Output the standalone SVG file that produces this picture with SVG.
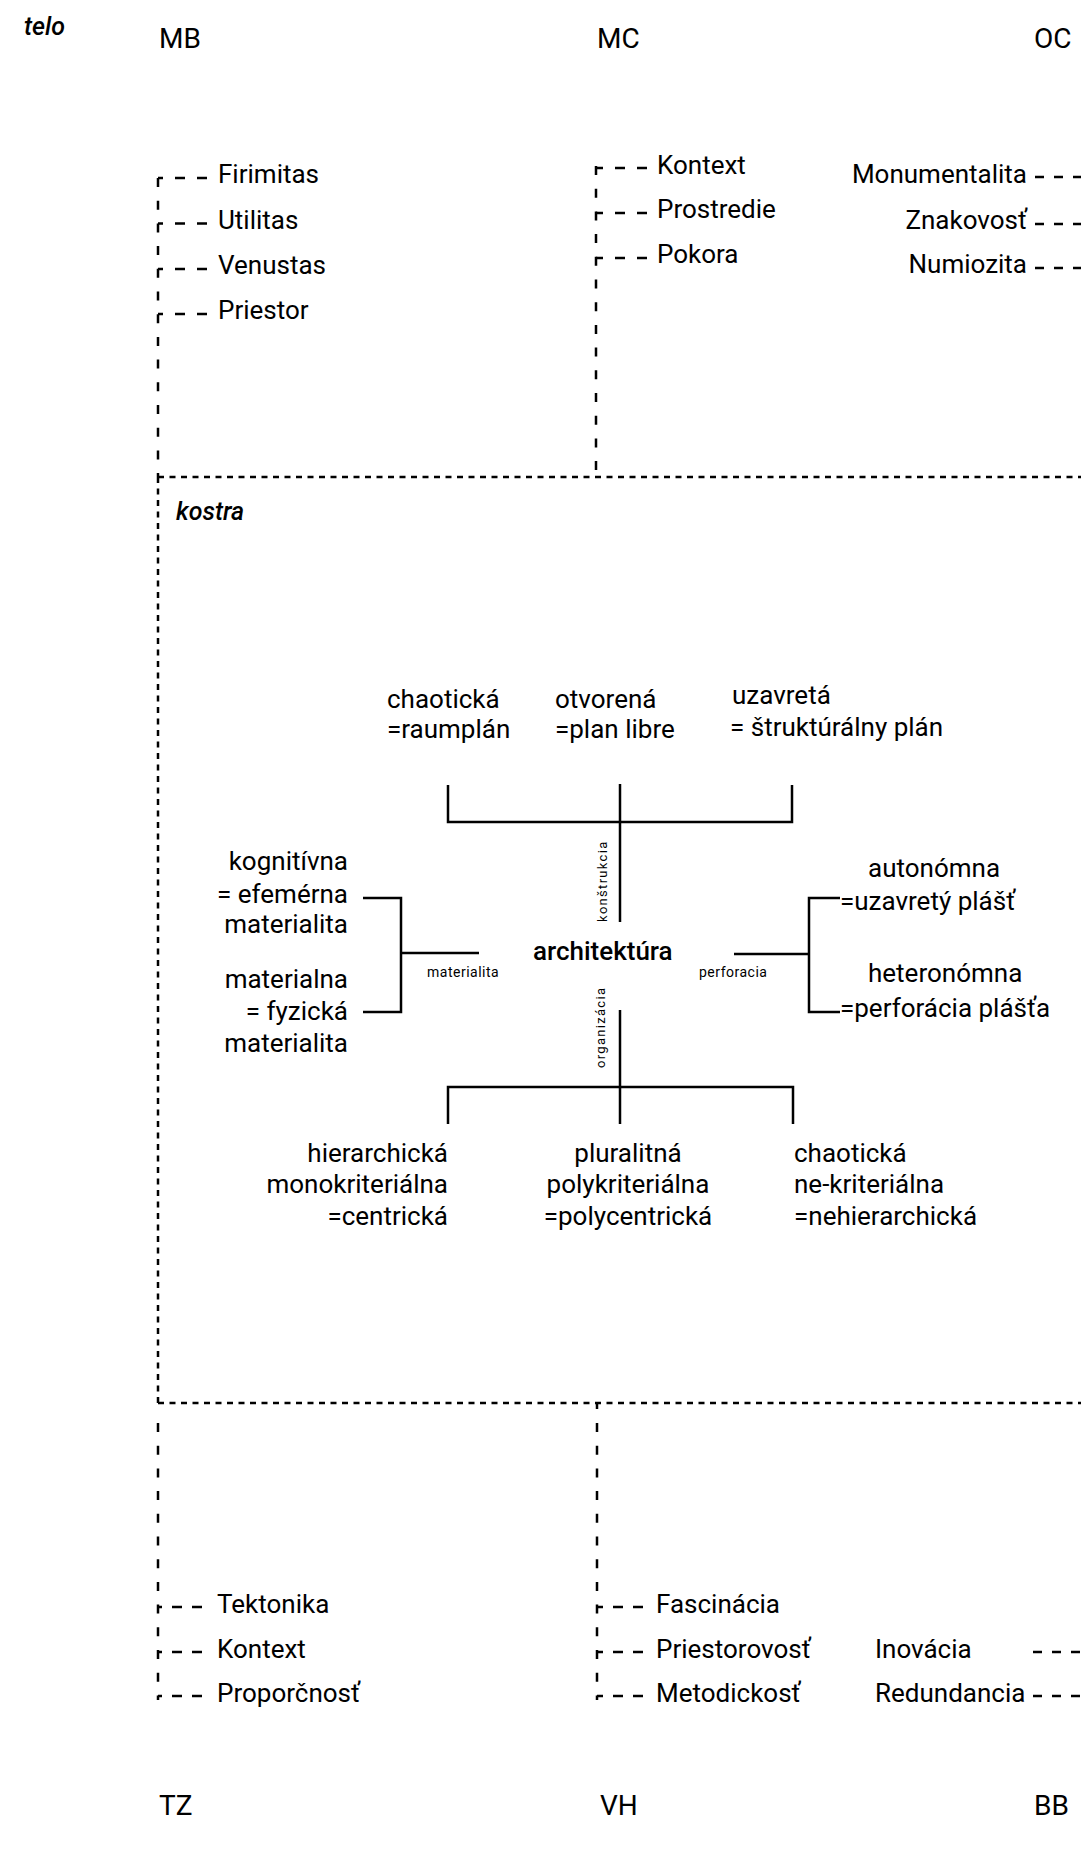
<svg xmlns="http://www.w3.org/2000/svg" width="1081" height="1850" viewBox="0 0 1081 1850">
<style>
text{font-family:Roboto,"Liberation Sans",sans-serif;fill:#000}
.h{font-size:28px}
.t{font-size:26px}
.it{font-size:25px;font-style:italic;font-weight:500}
.main{font-size:26px;font-weight:500}
.sm{font-size:14px;letter-spacing:0.5px}
.rot{font-size:13px;letter-spacing:1.3px}
.e{text-anchor:end}
.m{text-anchor:middle}
line,path{fill:none;stroke:#000;stroke-width:2.5}
.sp{stroke-dasharray:9 13.7}
.fn{stroke-dasharray:6 5.5}
.br{stroke-dasharray:10 12}
.br2{stroke-dasharray:10 10}
.rb{stroke-dasharray:9 10}
</style>
<rect width="1081" height="1850" fill="#fff"/>

<g id="connectors">
  <line class="sp" x1="158" y1="178" x2="158" y2="477"/>
  <line class="sp" x1="596" y1="166" x2="596" y2="477"/>
  <line class="fn" x1="158" y1="477" x2="1081" y2="477"/>
  <line class="fn" x1="158" y1="477" x2="158" y2="1403"/>
  <line class="fn" x1="158" y1="1403" x2="1081" y2="1403"/>
  <line class="sp" x1="158" y1="1423" x2="158" y2="1700"/>
  <line class="sp" x1="597" y1="1423" x2="597" y2="1700"/>
  <line x1="597" y1="1403" x2="597" y2="1409"/>
  <line class="br" stroke-dashoffset="5" x1="158" y1="178" x2="208" y2="178"/>
  <line class="br" stroke-dashoffset="5" x1="158" y1="223.5" x2="208" y2="223.5"/>
  <line class="br" stroke-dashoffset="5" x1="158" y1="269" x2="208" y2="269"/>
  <line class="br" stroke-dashoffset="5" x1="158" y1="314" x2="208" y2="314"/>
  <line class="br" stroke-dashoffset="3" x1="596" y1="168" x2="647" y2="168"/>
  <line class="br" stroke-dashoffset="3" x1="596" y1="213" x2="647" y2="213"/>
  <line class="br" stroke-dashoffset="3" x1="596" y1="258" x2="647" y2="258"/>
  <line class="rb" x1="1035" y1="177" x2="1081" y2="177"/>
  <line class="rb" x1="1035" y1="224" x2="1081" y2="224"/>
  <line class="rb" x1="1035" y1="268" x2="1081" y2="268"/>
  <line class="br2" stroke-dashoffset="6" x1="158" y1="1607" x2="202" y2="1607"/>
  <line class="br2" stroke-dashoffset="6" x1="158" y1="1652" x2="202" y2="1652"/>
  <line class="br2" stroke-dashoffset="6" x1="158" y1="1696" x2="202" y2="1696"/>
  <line class="br2" stroke-dashoffset="4" x1="597" y1="1607" x2="643" y2="1607"/>
  <line class="br2" stroke-dashoffset="4" x1="597" y1="1652" x2="643" y2="1652"/>
  <line class="br2" stroke-dashoffset="4" x1="597" y1="1696" x2="643" y2="1696"/>
  <line class="rb" x1="1033" y1="1652" x2="1081" y2="1652"/>
  <line class="rb" x1="1033" y1="1696" x2="1081" y2="1696"/>
  <path d="M448 785 V822 H792 V785"/>
  <path d="M620 784 V922"/>
  <path d="M363 898 H401 V1012 H363"/>
  <path d="M401 953 H479"/>
  <path d="M840 898 H809 V1012 H840"/>
  <path d="M734 954 H809"/>
  <path d="M448 1124 V1087 H793 V1124"/>
  <path d="M620 1010 V1124"/>
</g>

<g id="labels">
  <text class="it" x="24" y="35">telo</text>
  <text class="it" x="176" y="520">kostra</text>
</g>

<g id="MB">
  <text class="h" x="159" y="48">MB</text>
  <text class="t" x="218" y="183">Firimitas</text>
  <text class="t" x="218" y="229">Utilitas</text>
  <text class="t" x="218" y="274">Venustas</text>
  <text class="t" x="218" y="319">Priestor</text>
</g>
<g id="MC">
  <text class="h" x="597" y="48">MC</text>
  <text class="t" x="657" y="174">Kontext</text>
  <text class="t" x="657" y="218">Prostredie</text>
  <text class="t" x="657" y="263">Pokora</text>
</g>
<g id="OC">
  <text class="h" x="1034" y="48">OC</text>
  <text class="t e" x="1027" y="183">Monumentalita</text>
  <text class="t e" x="1027" y="229">Znakovosť</text>
  <text class="t e" x="1027" y="273">Numiozita</text>
</g>

<g id="architektura">
  <text class="main" x="533" y="960">architektúra</text>
</g>
<g id="konstrukcia">
  <text class="rot" transform="translate(607,922) rotate(-90)">konštrukcia</text>
  <text class="t" x="387" y="708">chaotická</text>
  <text class="t" x="387" y="738">=raumplán</text>
  <text class="t" x="555" y="708">otvorená</text>
  <text class="t" x="555" y="738">=plan libre</text>
  <text class="t" x="732" y="704">uzavretá</text>
  <text class="t" x="730" y="736">= štruktúrálny plán</text>
</g>
<g id="materialita">
  <text class="sm" x="427" y="977">materialita</text>
  <text class="t e" x="348" y="870">kognitívna</text>
  <text class="t e" x="348" y="903">= efemérna</text>
  <text class="t e" x="348" y="933">materialita</text>
  <text class="t e" x="348" y="988">materialna</text>
  <text class="t e" x="348" y="1020">= fyzická</text>
  <text class="t e" x="348" y="1052">materialita</text>
</g>
<g id="perforacia">
  <text class="sm" x="699" y="977">perforacia</text>
  <text class="t" x="868" y="877">autonómna</text>
  <text class="t" x="840" y="910">=uzavretý plášť</text>
  <text class="t" x="868" y="982">heteronómna</text>
  <text class="t" x="840" y="1017">=perforácia plášťa</text>
</g>
<g id="organizacia">
  <text class="rot" transform="translate(605,1068) rotate(-90)">organizácia</text>
  <text class="t e" x="448" y="1162">hierarchická</text>
  <text class="t e" x="448" y="1193">monokriteriálna</text>
  <text class="t e" x="448" y="1225">=centrická</text>
  <text class="t m" x="628" y="1162">pluralitná</text>
  <text class="t m" x="628" y="1193">polykriteriálna</text>
  <text class="t m" x="628" y="1225">=polycentrická</text>
  <text class="t" x="794" y="1162">chaotická</text>
  <text class="t" x="794" y="1193">ne-kriteriálna</text>
  <text class="t" x="794" y="1225">=nehierarchická</text>
</g>

<g id="TZ">
  <text class="h" x="159" y="1815">TZ</text>
  <text class="t" x="217" y="1613">Tektonika</text>
  <text class="t" x="217" y="1658">Kontext</text>
  <text class="t" x="217" y="1702">Proporčnosť</text>
</g>
<g id="VH">
  <text class="h" x="600" y="1815">VH</text>
  <text class="t" x="656" y="1613">Fascinácia</text>
  <text class="t" x="656" y="1658">Priestorovosť</text>
  <text class="t" x="656" y="1702">Metodickosť</text>
</g>
<g id="BB">
  <text class="h" x="1034" y="1815">BB</text>
  <text class="t" x="875" y="1658">Inovácia</text>
  <text class="t" x="875" y="1702">Redundancia</text>
</g>
</svg>
